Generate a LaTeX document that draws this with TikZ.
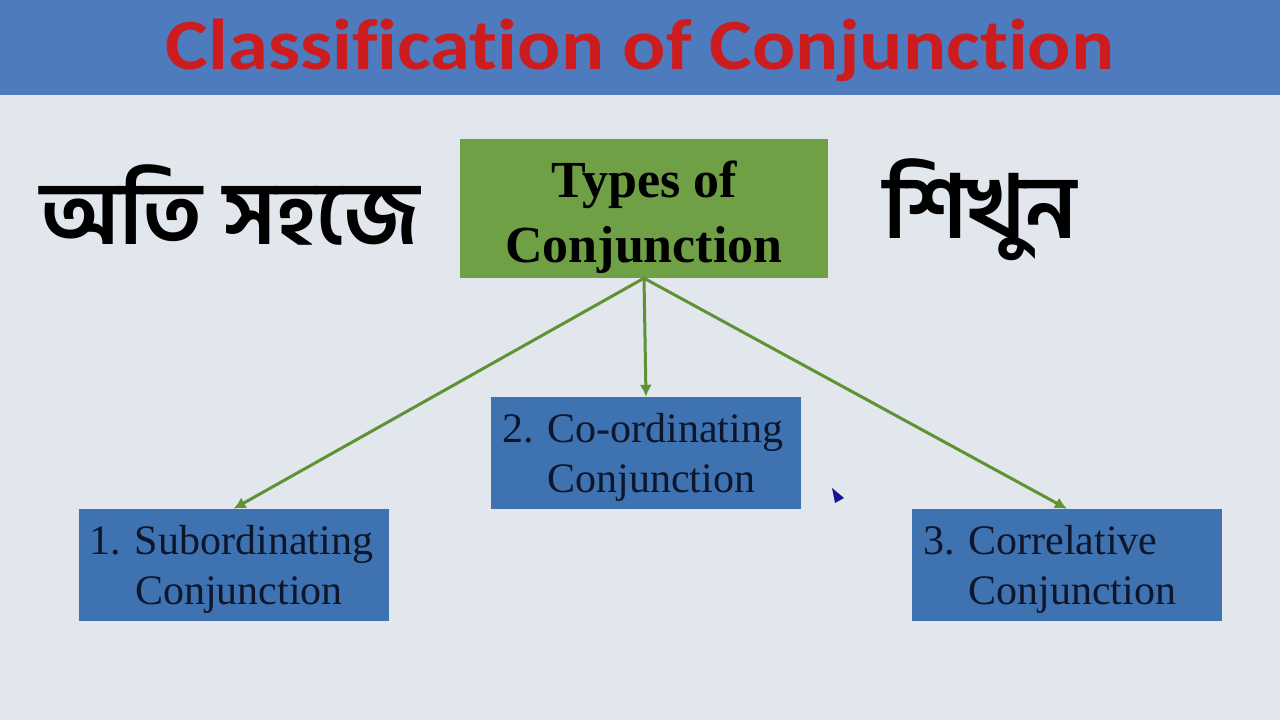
\documentclass[tikz,border=0pt]{standalone}
\usepackage{fontspec}
\usetikzlibrary{arrows.meta}
\setmainfont{Liberation Serif}
\newfontfamily\titlefont[Ligatures=NoCommon,FakeStretch=1.12]{Carlito}
\newfontfamily\bangla[Script=Bengali]{Hind Siliguri}
\definecolor{slidebg}{RGB}{226,230,237}
\definecolor{bandblue}{RGB}{78,122,190}
\definecolor{titlered}{RGB}{205,28,30}
\definecolor{rootgreen}{RGB}{112,160,70}
\definecolor{linkgreen}{RGB}{96,146,52}
\definecolor{typeblue}{RGB}{62,114,176}
\definecolor{typetext}{RGB}{14,22,44}
\definecolor{pointer}{RGB}{20,20,150}
\hyphenpenalty=10000
\begin{document}
\begin{tikzpicture}[x=1pt,y=-1pt,
  rootbox/.style={fill=rootgreen, minimum width=368pt, minimum height=139pt, inner sep=0pt,
    align=center, font=\fontsize{52}{65}\selectfont\bfseries},
  typebox/.style={fill=typeblue, minimum width=310pt, minimum height=112pt, inner xsep=11pt,
    text width=288pt, align=left, text=typetext, font=\fontsize{42}{50}\selectfont},
  link/.style={draw=linkgreen, line width=3pt, -{Latex[length=12pt,width=12pt]}}]
\useasboundingbox (0,0) rectangle (1280,720);
% slide background and title band
\fill[slidebg] (0,0) rectangle (1280,720);
\fill[bandblue] (0,0) rectangle (1280,95);
\node[text=titlered, font=\fontsize{72}{80}\selectfont\titlefont\bfseries] (title) at (640,50) {Classification of Conjunction};

% bangla words either side of the root
\node[font=\fontsize{88}{100}\selectfont\bangla\bfseries] (easy) at (230,205) {অতি সহজে};
\node[font=\fontsize{88}{100}\selectfont\bangla\bfseries] (learn) at (980,210) {শিখুন};

% root and the three types
\node[rootbox] (types) at (644,208.5) {\raisebox{-8pt}[\height][\depth]{\begin{tabular}{@{}c@{}}Types of\\Conjunction\end{tabular}}};
\newcommand{\typenode}[4]{
  \node[typebox] (#1) at (#2) {\raisebox{-4pt}[\height][\depth]{\parbox{288pt}{#3.\ #4\\\phantom{#3.\ }Conjunction}}};
}
\typenode{sub}{233.5,565}{1}{Subordinating}
\typenode{coord}{646,453}{2}{Co-ordinating}
\typenode{corr}{1067,565}{3}{Correlative}

\foreach \t in {sub,coord,corr} {
  \draw[link] (types.south) -- (\t.north);
}

% mouse pointer
\fill[pointer] (832,488) -- (835,503) -- (844,498) -- cycle;
\end{tikzpicture}
\end{document}
